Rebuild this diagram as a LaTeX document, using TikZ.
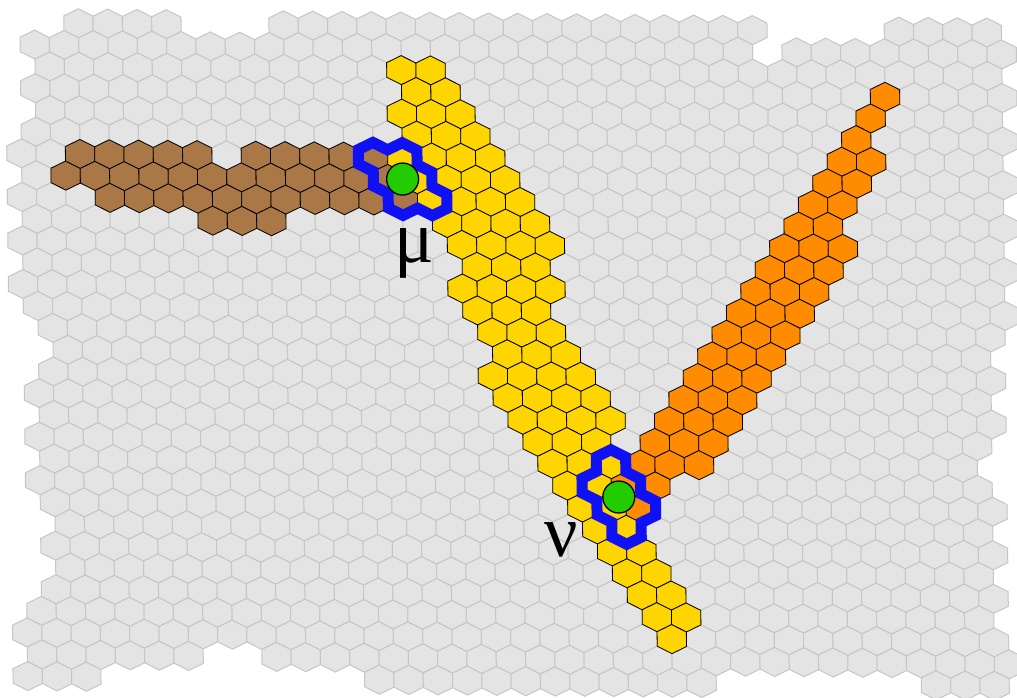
\documentclass[tikz,border=0pt]{standalone}
\usepackage{fontspec}
\newfontfamily\greekfont{Liberation Serif}
\definecolor{hexgrey}{RGB}{228,228,228}
\definecolor{hexedge}{RGB}{198,198,198}
\definecolor{brownc}{RGB}{170,120,70}
\definecolor{yellowc}{RGB}{255,213,0}
\definecolor{orangec}{RGB}{255,140,0}
\definecolor{greenc}{RGB}{34,204,0}
\definecolor{bluec}{RGB}{16,16,245}
\tikzset{
  greycell/.style={fill=hexgrey, draw=hexedge, line width=1pt},
  browncell/.style={fill=brownc, draw=black, line width=0.8pt},
  yellowcell/.style={fill=yellowc, draw=black, line width=0.8pt},
  orangecell/.style={fill=orangec, draw=black, line width=0.8pt},
  ringline/.style={draw=bluec, line width=11pt, line join=miter},
  bmu/.style={circle, fill=greenc, draw=black, line width=1.3pt, minimum size=32pt, inner sep=0pt},
  lbl/.style={font=\greekfont\fontsize{74}{74}\selectfont, inner sep=0pt}
}
\newcommand\hexcellat[3]{\path[#3] (#1,#2) ++(0,-0.6667) -- ++(1,0.3333) -- ++(0,0.6667) -- ++(-1,0.3333) -- ++(-1,-0.3333) -- ++(0,-0.6667) -- cycle;}
\begin{document}
\begin{tikzpicture}
\useasboundingbox (0pt,0pt) rectangle (1017pt,-698pt);
\begin{scope}[shift={(19.9pt,-22.7pt)}, x={(14.65pt,-0.1494pt)}, y={(0.26pt,-21.78pt)}]
% grey grid: row / first h / last h
\foreach \r/\a/\b in {0/4/10, 0/18/50, 0/60/66, 1/1/49, 1/53/67, 2/2/66, 3/1/67, 4/2/66, 5/1/67, 6/0/66, 7/1/67, 8/0/66, 9/1/67, 10/0/66, 11/1/67, 12/0/66, 13/1/67, 14/2/66, 15/3/65, 16/2/66, 17/1/65, 18/2/66, 19/1/65, 20/2/64, 21/1/65, 22/2/66, 23/3/65, 24/2/66, 25/3/65, 26/2/66, 27/1/65, 28/0/66, 29/1/11, 29/17/67, 30/0/4, 30/24/46, 30/62/66}{
  \pgfmathtruncatemacro\nn{(\b-\a)/2}
  \foreach \k in {0,...,\nn}{
    \pgfmathtruncatemacro\hh{\a+2*\k}
    \hexcellat{\hh}{\r}{greycell}
  }
}
% brown
\foreach \r/\h in {6/4,6/6,6/8,6/10,6/12,6/16,6/18,6/20,6/22,6/24,
  7/3,7/5,7/7,7/9,7/11,7/13,7/15,7/17,7/19,7/21,7/23,7/25,
  8/6,8/8,8/10,8/12,8/14,8/16,8/18,8/20,8/22,8/24,8/26,
  9/13,9/15,9/17}{\hexcellat{\h}{\r}{browncell}}
% yellow
\foreach \r/\h in {2/26,2/28,3/27,3/29,4/26,4/28,4/30,5/27,5/29,5/31,
  6/26,6/28,6/30,6/32,7/27,7/29,7/31,7/33,8/28,8/30,8/32,8/34,
  9/29,9/31,9/33,9/35,10/30,10/32,10/34,10/36,11/31,11/33,11/35,
  12/30,12/32,12/34,12/36,13/31,13/33,13/35,14/32,14/34,14/36,
  15/33,15/35,15/37,16/32,16/34,16/36,16/38,17/33,17/35,17/37,17/39,
  18/34,18/36,18/38,18/40,19/35,19/37,19/39,20/36,20/38,20/40,21/37,21/39,
  22/38,22/40,23/39,23/41,24/40,24/42,25/41,25/43,26/42,26/44,27/43,27/45,28/44}{\hexcellat{\h}{\r}{yellowcell}}
% orange
\foreach \r/\h in {3/59,4/58,5/57,6/56,6/58,7/55,7/57,8/54,8/56,9/53,9/55,
  10/52,10/54,10/56,11/51,11/53,11/55,12/50,12/52,12/54,13/49,13/51,13/53,
  14/48,14/50,14/52,15/47,15/49,15/51,16/46,16/48,16/50,17/45,17/47,17/49,
  18/44,18/46,18/48,19/43,19/45,19/47,20/42,20/44,20/46,21/41,21/43,22/42}{\hexcellat{\h}{\r}{orangecell}}
% rings
\path[ringline] (23,5.6667) -- (24,5.3333) -- (25,5.6667) -- (26,5.3333) -- (27,5.6667) -- (27,6.3333) -- (28,6.6667) -- (28,7.3333) -- (29,7.6667) -- (29,8.3333) -- (28,8.6667) -- (27,8.3333) -- (26,8.6667) -- (25,8.3333) -- (25,7.6667) -- (24,7.3333) -- (24,6.6667) -- (23,6.3333) -- cycle;
\path[ringline] (40,19.3333) -- (41,19.6667) -- (41,20.3333) -- (42,20.6667) -- (42,21.3333) -- (43,21.6667) -- (43,22.3333) -- (42,22.6667) -- (42,23.3333) -- (41,23.6667) -- (40,23.3333) -- (40,22.6667) -- (39,22.3333) -- (39,21.6667) -- (38,21.3333) -- (38,20.6667) -- (39,20.3333) -- (39,19.6667) -- cycle;
\node[bmu] (mudot) at (26,7) {};
\node[bmu] (nudot) at (40.5,21.5) {};
\end{scope}
\node[lbl] (mulabel) at (414pt,-253pt) {μ};
\node[lbl] (nulabel) at (561pt,-540pt) {ν};
\end{tikzpicture}
\end{document}
